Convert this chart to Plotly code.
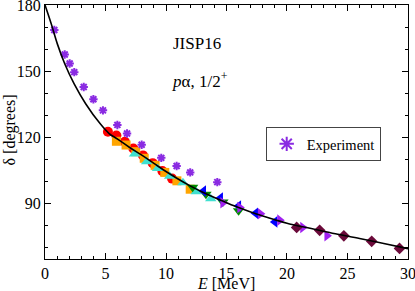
import plotly.graph_objects as go

# Experiment
exp_E = [0.77, 1.63, 2.04, 2.42, 3.2, 4.0, 4.79, 5.98, 6.78, 7.99, 9.61, 10.88, 12.0, 14.24]
exp_d = [168.7, 157.6, 153.5, 149.6, 142.9, 137.3, 132.3, 125.7, 121.8, 116.7, 110.8, 107.1, 104.2, 99.8]

# Calculated series
red_E = [5.2, 5.9, 6.6, 7.3, 8.1, 8.9, 9.7, 10.5]
red_d = [122.6, 120.9, 118.1, 115.0, 111.9, 108.4, 104.8, 101.4]
orange_E = [5.9, 6.7, 7.5, 8.2, 9.1, 9.9, 10.9, 12.0]
orange_d = [118.3, 116.6, 113.6, 110.6, 107.4, 104.2, 100.4, 96.6]
cyan_E = [7.4, 8.4, 9.3, 10.3, 11.4, 12.5, 13.7]
cyan_d = [112.5, 109.0, 106.0, 102.5, 99.5, 95.5, 92.3]
green_E = [12.2, 13.3, 14.7, 16.0]
green_d = [97.5, 94.3, 90.8, 86.8]
blue_E = [13.1, 14.5, 16.0, 17.4, 19.0]
blue_d = [95.8, 92.6, 89.0, 85.7, 81.8]
violet_E = [14.7, 16.1, 17.8, 19.4, 21.3, 23.3]
violet_d = [90.5, 88.3, 85.5, 82.6, 79.3, 75.5]
maroon_E = [20.8, 22.7, 24.7, 27.0, 29.3]
maroon_d = [79.3, 78.0, 75.5, 73.0, 69.8]

# Curve
curve_E = [0.0, 0.52, 1.02, 1.63, 2.4, 3.36, 4.55, 5.3, 6, 7, 8, 9, 10, 11, 12, 13, 14, 15, 16, 17, 18, 19, 20, 22, 24, 26, 28, 30]
curve_d = [180.0, 171.4, 162.4, 153.4, 144.4, 135.3, 126.3, 121.8, 119.3, 115.5, 112.0, 108.3, 104.6, 101.2, 98.1, 95.3, 92.8, 90.5, 88.3, 86.3, 84.5, 82.8, 81.2, 78.8, 76.4, 74.3, 72.0, 69.7]

x_ticks = [0, 5, 10, 15, 20, 25, 30]
y_ticks = [90, 120, 150, 180]

fig = go.Figure()

def add(E, d, sym, color, size=9, name="", legend=False, lw=0):
    fig.add_trace(go.Scatter(
        x=E, y=d, mode="markers", name=name, showlegend=legend,
        marker=dict(symbol=sym, color=color, size=size,
                    line=dict(width=lw, color=color))))

add(red_E, red_d, "circle", "#ff0000", 10, "red")
add(orange_E, orange_d, "square", "#ffa500", 9, "orange")
add(cyan_E, cyan_d, "triangle-up", "#40e0d0", 10, "cyan")
add(green_E, green_d, "triangle-down", "#008b00", 10, "green")
add(blue_E, blue_d, "triangle-left", "#0000ff", 10, "blue")
add(violet_E, violet_d, "triangle-right", "#a020f0", 10, "violet")
add(maroon_E, maroon_d, "diamond", "#6b0a3a", 9, "maroon")
add(exp_E, exp_d, "asterisk-open", "#8a2be2", 7, name="Experiment", legend=True, lw=2)

fig.add_trace(go.Scatter(x=curve_E, y=curve_d, mode="lines", name="JISP16", showlegend=False,
                         line=dict(color="black", width=1.6, shape="spline", smoothing=1.0)))

font = "Liberation Serif"
axis_common = dict(showline=True, linecolor="black", linewidth=1, mirror="allticks",
                   ticks="inside", ticklen=6, tickcolor="black", showgrid=False, zeroline=False,
                   automargin=False, ticklabeloverflow="allow",
                   tickfont=dict(family=font, size=16, color="black"))

fig.update_layout(
    width=415, height=291,
    margin=dict(l=45, r=7, t=5, b=32),
    paper_bgcolor="white", plot_bgcolor="white",
    xaxis=dict(range=[0, 30.001], tickmode="array", tickvals=x_ticks,
               minor=dict(dtick=1, ticks="inside", ticklen=3, tickcolor="black"),
               **axis_common),
    yaxis=dict(range=[65, 180.001], tickmode="array", tickvals=y_ticks,
               minor=dict(dtick=10, tick0=0, ticks="inside", ticklen=3, tickcolor="black"),
               **axis_common),
    legend=dict(x=0.608, y=0.52, xanchor="left", yanchor="top",
                bordercolor="#444", borderwidth=1, bgcolor="white",
                font=dict(family=font, size=14.5, color="black"),
                itemsizing="constant", tracegroupgap=0),
    annotations=[
        dict(text="JISP16", x=0.419, y=0.894, xref="paper", yref="paper", showarrow=False,
             font=dict(family=font, size=17, color="black")),
        dict(text="<i>p</i>α, 1/2<sup>+</sup>", x=0.427, y=0.756, xref="paper", yref="paper", showarrow=False,
             font=dict(family=font, size=17, color="black")),
        dict(text="<i>E</i> [MeV]", x=0.499, y=-0.098, xref="paper", yref="paper", showarrow=False,
             xanchor="center", yanchor="middle",
             font=dict(family=font, size=16, color="black")),
        dict(text="δ [degrees]", x=-0.0964, y=0.506, xref="paper", yref="paper", showarrow=False,
             textangle=-90, xanchor="center", yanchor="middle",
             font=dict(family=font, size=16, color="black")),
    ],
)

fig.write_html("out.html", config={"displayModeBar": False},
               post_script="document.body.style.margin='0';document.body.style.overflow='hidden';")
